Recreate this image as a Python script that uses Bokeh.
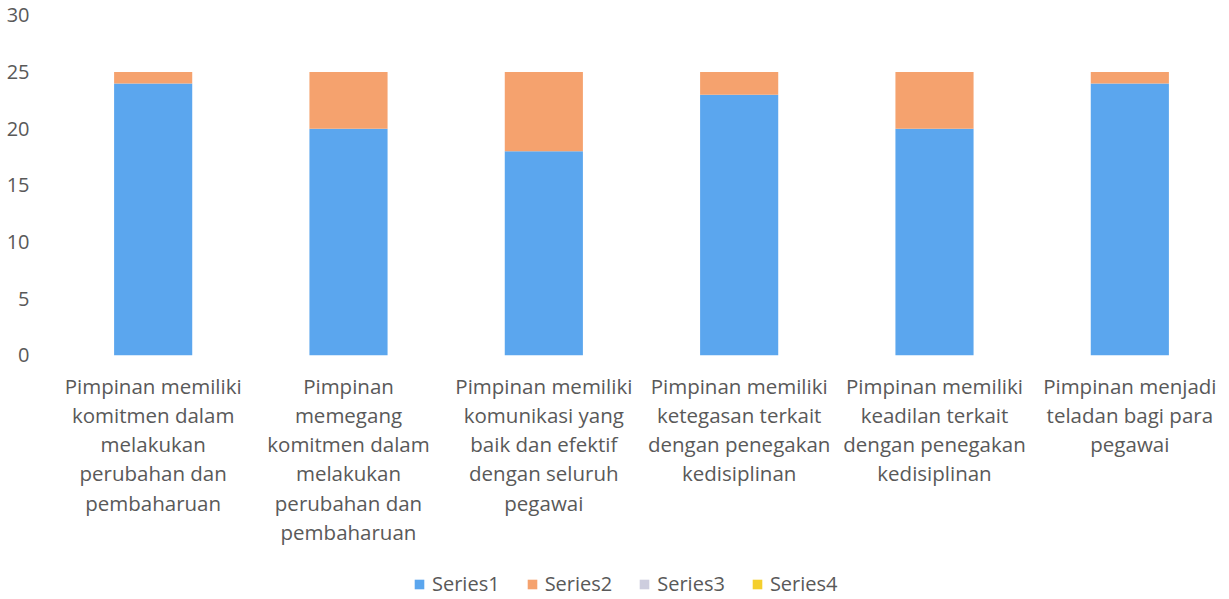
from bokeh.plotting import figure
from bokeh.models import ColumnDataSource, Range1d, FixedTicker, Legend, LegendItem
from bokeh.core.properties import value
from bokeh.embed import file_html
from bokeh.resources import INLINE

categories = [
    "Pimpinan memiliki\nkomitmen dalam\nmelakukan\nperubahan dan\npembaharuan",
    "Pimpinan\nmemegang\nkomitmen dalam\nmelakukan\nperubahan dan\npembaharuan",
    "Pimpinan memiliki\nkomunikasi yang\nbaik dan efektif\ndengan seluruh\npegawai",
    "Pimpinan memiliki\nketegasan terkait\ndengan penegakan\nkedisiplinan",
    "Pimpinan memiliki\nkeadilan terkait\ndengan penegakan\nkedisiplinan",
    "Pimpinan menjadi\nteladan bagi para\npegawai",
]
series_names = ["Series1", "Series2", "Series3", "Series4"]
series1 = [24, 20, 18, 23, 20, 24]
series2 = [1, 5, 7, 2, 5, 1]
series3 = [0, 0, 0, 0, 0, 0]
series4 = [0, 0, 0, 0, 0, 0]
y_ticks = [0, 5, 10, 15, 20, 25, 30]

colors = ["#5BA6EE", "#F5A26E", "#CDCDDE", "#F4CF2E"]
FONT = "Open Sans"
GREY = "#595959"

source = ColumnDataSource(dict(cat=categories, Series1=series1, Series2=series2,
                               Series3=series3, Series4=series4))

# y range extends below zero to leave room for the category labels and legend
p = figure(x_range=categories, y_range=Range1d(-21.4, 30.26),
           frame_width=1172, frame_height=585,
           output_backend="svg", toolbar_location=None,
           min_border_left=55, min_border_right=0, min_border_top=12, min_border_bottom=0)

renderers = p.vbar_stack(series_names, x="cat", width=0.4, source=source,
                         fill_color=colors, line_color=None)

# category labels under the bars
p.text(x="cat", y=-1.45, text="cat", source=source,
       text_font=value(FONT), text_font_size="20.5px", text_color=GREY,
       text_align="center", text_baseline="top", text_line_height=1.045)

p.xgrid.visible = False
p.ygrid.visible = False
p.outline_line_color = None
p.xaxis.visible = False

p.yaxis.ticker = FixedTicker(ticks=y_ticks)
p.yaxis.axis_line_color = None
p.yaxis.major_tick_line_color = None
p.yaxis.minor_tick_line_color = None
p.yaxis.major_label_text_font = FONT
p.yaxis.major_label_text_font_size = "20px"
p.yaxis.major_label_text_color = GREY
p.yaxis.major_label_standoff = 20

legend = Legend(items=[LegendItem(label=n, renderers=[r]) for n, r in zip(series_names, renderers)],
                orientation="horizontal", location=(358, 0),
                label_text_font=FONT, label_text_font_size="20px", label_text_color=GREY,
                glyph_width=12, glyph_height=12, spacing=26, label_standoff=7,
                border_line_color=None, background_fill_alpha=0, padding=0, margin=0)
p.add_layout(legend)

open("out.html", "w").write(file_html(p, INLINE))
